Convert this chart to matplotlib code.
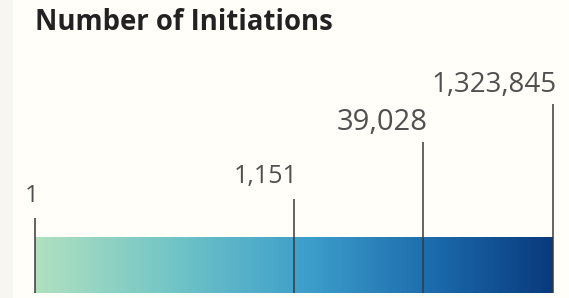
import numpy as np
import matplotlib
matplotlib.use("Agg")
from matplotlib import pyplot as plt
from matplotlib.patches import Rectangle
from matplotlib.colors import LinearSegmentedColormap

W, H = 569, 298
DPI = 100

# data
labels = ["1", "1,151", "39,028", "1,323,845"]
values = [1, 1151, 39028, 1323845]
title = "Number of Initiations"

# style (pixel positions measured on the reference)
BAR_TOP, BAR_BOT = 237, 293
STEM_TOP = [218, 199, 142, 104]
LABEL_BASE = [202, 183, 130, 92]
LABEL_SIZE = [17.5, 18, 21, 20]
BG = "#fffef8"
CMAP = LinearSegmentedColormap.from_list("bar", [
    (0.0, "#b0e0bf"), (0.27, "#70c4c6"), (0.53, "#3c9dca"),
    (0.78, "#1a68aa"), (1.0, "#083a7c")])


def main():
    fig = plt.figure(figsize=(W / DPI, H / DPI), dpi=DPI, facecolor=BG)
    fig.patches.append(Rectangle((0, 0), 13 / W, 1, transform=fig.transFigure,
                                 facecolor="#f7f6f1", edgecolor="none"))

    ax = fig.add_axes([35 / W, 0, 518 / W, 1])
    ax.set_facecolor("none")
    ax.set_xscale("log")
    ax.set_xlim(values[0], values[-1])
    ax.set_ylim(H, 0)
    ax.axis("off")

    # gradient bar, linear along the (log) axis
    edges = np.logspace(np.log10(values[0]), np.log10(values[-1]), 300)
    grad = np.linspace(0, 1, len(edges) - 1)[None, :]
    ax.pcolormesh(edges, [BAR_TOP, BAR_BOT], grad, cmap=CMAP,
                  vmin=0, vmax=1, shading="flat", rasterized=True)

    for v, lab, top, base, fs in zip(values, labels, STEM_TOP, LABEL_BASE,
                                     LABEL_SIZE):
        ax.vlines(v, top, BAR_BOT, color="#3a3a3a", lw=1.1, clip_on=False)
        ax.annotate(lab, (v, base), xytext=(4, 0), textcoords="offset pixels",
                    ha="right", va="baseline", fontsize=fs, color="#505050",
                    family="Open Sans", annotation_clip=False)

    fig.text(35 / W, 1 - 30 / H, title, fontsize=19.8, fontweight="bold",
             color="#222222", family="Open Sans", va="baseline")

    fig.savefig("out.png", dpi=DPI, facecolor=BG)


if __name__ == '__main__':
    main()
